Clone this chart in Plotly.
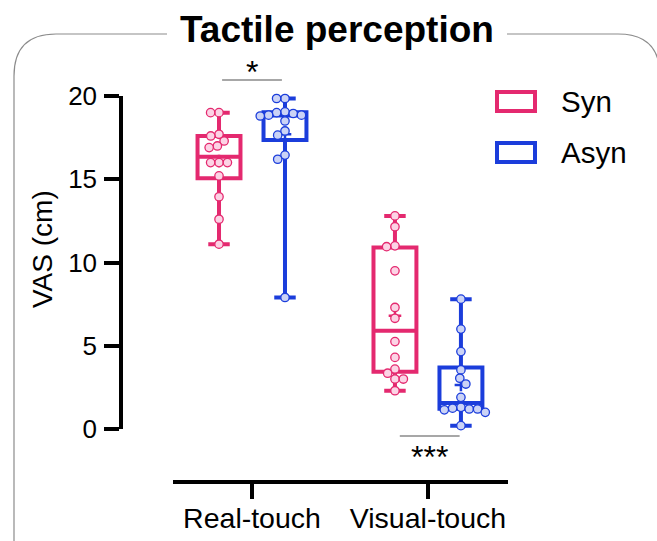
import numpy as np
import plotly.graph_objects as go

# ---------------- data ----------------
categories = ["Real-touch", "Visual-touch"]
groups = ["Syn", "Asyn"]

real_syn = [19.0, 19.0, 17.7, 17.6, 17.3, 17.0, 16.9, 16.0, 16.0, 16.0, 15.2, 13.95, 12.6, 11.1]
real_asyn = [19.85, 19.85, 19.05, 19.0, 18.95, 18.85, 18.85, 18.8, 18.5, 17.9, 17.65, 16.45, 16.2, 7.9]
vis_syn = [12.8, 12.15, 11.0, 10.95, 9.5, 7.3, 6.65, 5.25, 4.3, 3.6, 3.35, 3.0, 3.0, 2.3]
vis_asyn = [7.8, 6.0, 4.65, 3.55, 3.05, 2.7, 1.9, 1.3, 1.25, 1.2, 1.2, 1.15, 1.0, 0.2]

# quartiles: order real_syn, real_asyn, vis_syn, vis_asyn
q1_vals = [15.06, 17.36, 3.44, 1.22]
median_vals = [16.35, 18.83, 5.9, 1.56]
q3_vals = [17.6, 19.02, 10.9, 3.7]

y_ticks = [0, 5, 10, 15, 20]
sig_labels = ["*", "***"]

# ---------------- layout geometry ----------------
W, H = 657, 541
L, R, T, B = 121, 149, 96, 59
PW, PH = W - L - R, H - T - B
XR = [-0.449, 1.455]
YR = [0, 20]
xdom0 = (173 - L) / PW
ydom0 = (H - B - 429) / PH

kx = PW * (1 - xdom0) / (XR[1] - XR[0])   # px per x unit
ky = PH * (1 - ydom0) / (YR[1] - YR[0])   # px per y unit

def px_x(px):
    return (px - L) / PW

def px_y(py):
    return (H - B - py) / PH

def val_to_paper_y(v):
    return ydom0 + (v - YR[0]) / (YR[1] - YR[0]) * (1 - ydom0)

PINK = "#e4296f"
BLUE = "#1b3ddb"
PINK_FILL = "#fcd3e5"
BLUE_FILL = "#cbd3f6"
FONT = "Liberation Sans, Arial, sans-serif"

offset = 0.1875
series = [
    (real_syn, 0 - offset, PINK, PINK_FILL),
    (real_asyn, 0 + offset, BLUE, BLUE_FILL),
    (vis_syn, 1 - offset, PINK, PINK_FILL),
    (vis_asyn, 1 + offset, BLUE, BLUE_FILL),
]

def beeswarm(vals, d=8.4):
    """return x offsets in px for a beeswarm arrangement"""
    order = np.argsort(-np.asarray(vals), kind="stable")
    placed = []  # (xpx, ypx)
    xs = np.zeros(len(vals))
    for i in order:
        y = vals[i] * ky
        forb = []
        for (px, py) in placed:
            dy = abs(py - y)
            if dy < d:
                w = np.sqrt(d * d - dy * dy)
                forb.append((px - w, px + w))
        cands = [0.0] + [a for a, b in forb] + [b for a, b in forb]
        cands = sorted(cands, key=lambda c: (abs(c), c))
        for c in cands:
            if all(not (a + 1e-6 < c < b - 1e-6) for a, b in forb):
                xs[i] = c
                break
        placed.append((xs[i], y))
    return xs

fig = go.Figure()

for k, (vals, xpos, col, fill) in enumerate(series):
    fig.add_trace(go.Box(
        x=[xpos], q1=[q1_vals[k]], median=[median_vals[k]], q3=[q3_vals[k]],
        lowerfence=[min(vals)], upperfence=[max(vals)],
        width=0.244, whiskerwidth=0.5, boxpoints=False,
        line=dict(color=col, width=4), fillcolor="rgba(255,255,255,0)",
        hoverinfo="skip", showlegend=False,
    ))

# means ("+") drawn beneath the points
for k, (vals, xpos, col, fill) in enumerate(series):
    fig.add_trace(go.Scatter(
        x=[xpos], y=[float(np.mean(vals))], mode="markers",
        marker=dict(symbol="cross-thin", size=9, line=dict(color=col, width=2.5)),
        cliponaxis=False, showlegend=False, hoverinfo="skip",
    ))

for k, (vals, xpos, col, fill) in enumerate(series):
    offs = beeswarm(vals)
    fig.add_trace(go.Scatter(
        x=xpos + offs / kx, y=vals, mode="markers",
        marker=dict(size=8.4, color=fill, line=dict(color=col, width=1.3)),
        cliponaxis=False, showlegend=False, hoverinfo="skip",
    ))

shapes = []
annotations = []

# significance bars
sig_pos = [(0, 20.96, 1), (1 + 0.01, -0.42, -1)]
for (xc, yv, side), lab in zip(sig_pos, sig_labels):
    shapes.append(dict(type="line", xref="x", yref="paper",
                       x0=xc - 0.17, x1=xc + 0.17,
                       y0=val_to_paper_y(yv), y1=val_to_paper_y(yv),
                       line=dict(color="#8a8a8a", width=1.3)))
    annotations.append(dict(xref="x", yref="paper", x=xc,
                            y=val_to_paper_y(yv),
                            yanchor="bottom" if side > 0 else "top",
                            text=lab, showarrow=False,
                            font=dict(family=FONT, size=32, color="black"),
                            yshift=-12 if side > 0 else -1))

# frame with title gap
fx = px_x
fy = px_y
path_left = (f"M {fx(14)},{fy(560)} L {fx(14)},{fy(76)} "
             f"Q {fx(14)},{fy(34)} {fx(56)},{fy(34)} L {fx(167)},{fy(34)}")
path_right = (f"M {fx(507)},{fy(34)} L {fx(618)},{fy(34)} "
              f"Q {fx(660)},{fy(34)} {fx(660)},{fy(76)} L {fx(660)},{fy(560)}")
for p in (path_left, path_right):
    shapes.append(dict(type="path", xref="paper", yref="paper", path=p,
                       line=dict(color="#8c8c8c", width=1.2)))

# title
annotations.append(dict(xref="paper", yref="paper", x=px_x(337), y=px_y(29),
                        text="<b>Tactile perception</b>", showarrow=False,
                        xanchor="center", yanchor="middle",
                        font=dict(family=FONT, size=37, color="black")))

# y title
annotations.append(dict(xref="paper", yref="paper", x=px_x(42), y=px_y(249),
                        text="VAS (cm)", showarrow=False, textangle=-90,
                        xanchor="center", yanchor="middle",
                        font=dict(family=FONT, size=28, color="black")))

# legend
for i, (g, col) in enumerate(zip(groups, [PINK, BLUE])):
    y0, y1 = 92 + i * 51, 111 + i * 51
    shapes.append(dict(type="rect", xref="paper", yref="paper",
                       x0=px_x(497), x1=px_x(535), y0=px_y(y1), y1=px_y(y0),
                       line=dict(color=col, width=4), fillcolor="white"))
    annotations.append(dict(xref="paper", yref="paper", x=px_x(559),
                            y=px_y((y0 + y1) / 2), text=g, showarrow=False,
                            xanchor="left", yanchor="middle",
                            font=dict(family=FONT, size=29.5, color="black")))

fig.update_layout(
    width=W, height=H,
    margin=dict(l=L, r=R, t=T, b=B, pad=0, autoexpand=False),
    paper_bgcolor="white", plot_bgcolor="white",
    showlegend=False,
    shapes=shapes, annotations=annotations,
    xaxis=dict(domain=[xdom0, 1], range=XR, anchor="free", position=0,
               automargin=False, ticklabelstandoff=-5,
               tickvals=[0, 1], ticktext=categories,
               showline=True, linecolor="black", linewidth=3.5,
               ticks="outside", ticklen=15, tickwidth=3.5, tickcolor="black",
               showgrid=False, zeroline=False,
               tickfont=dict(family=FONT, size=28.5, color="black")),
    yaxis=dict(domain=[ydom0, 1], range=YR, anchor="free", position=0,
               automargin=False, ticklabelstandoff=2,
               tickvals=y_ticks,
               showline=True, linecolor="black", linewidth=3.5,
               ticks="outside", ticklen=15, tickwidth=3.5, tickcolor="black",
               showgrid=False, zeroline=False,
               tickfont=dict(family=FONT, size=26, color="black")),
)

fig.write_html("out.html")
